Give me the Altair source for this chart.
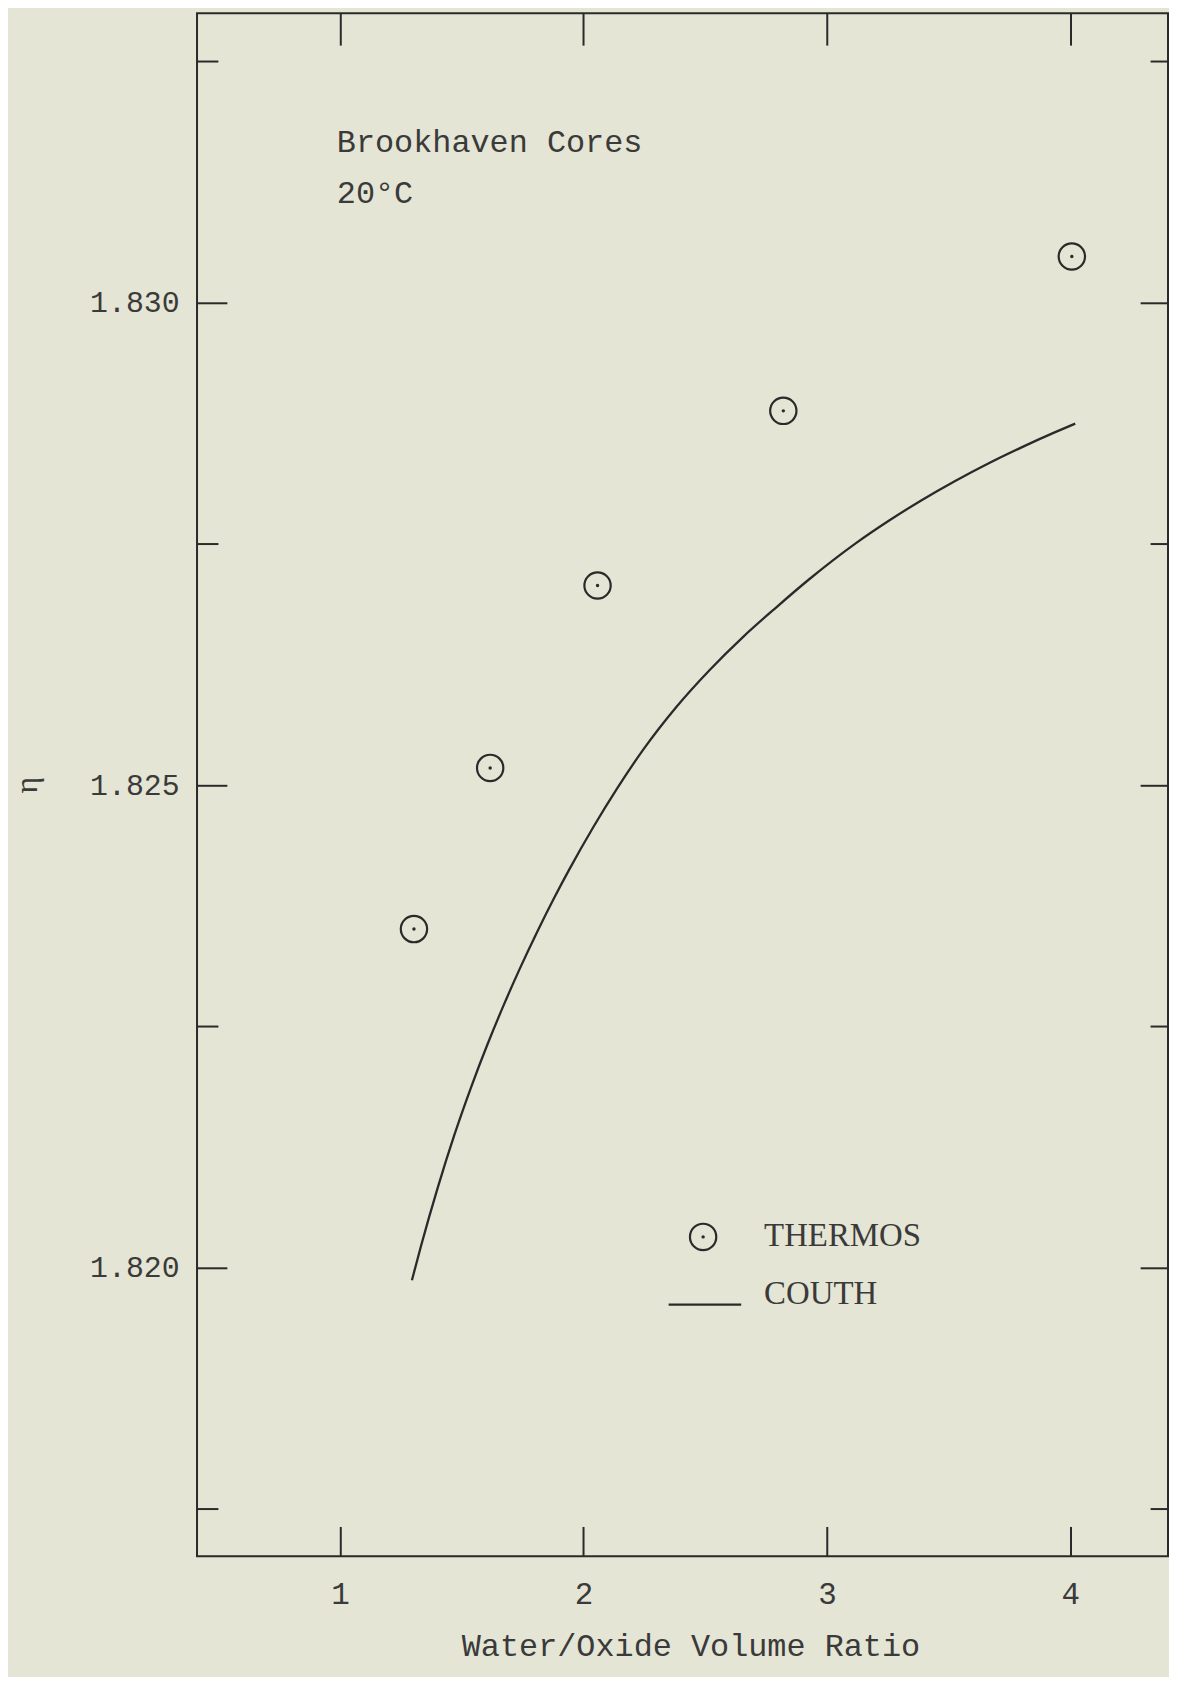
import altair as alt
import pandas as pd

# ---------------- data ----------------
thermos_x = [1.304, 1.617, 2.058, 2.821, 4.006]
thermos_y = [1.82351, 1.82518, 1.82707, 1.82888, 1.83048]

couth_x = [1.2955, 1.3335, 1.4017, 1.4700, 1.5378, 1.6061, 1.6743, 1.7421,
           1.8104, 1.8786, 1.9399, 2.0421, 2.1373, 2.2464, 2.3825, 2.5186,
           2.6551, 2.7912, 2.9273, 3.1181, 3.2542, 3.3907, 3.5268, 3.6629,
           3.7994, 3.9354, 4.0200]
couth_y = [1.819870, 1.820231, 1.820831, 1.821377, 1.821865, 1.822316, 1.822732, 1.823118,
           1.823483, 1.823827, 1.824118, 1.824573, 1.824963, 1.825372, 1.825814, 1.826195,
           1.826536, 1.826842, 1.827135, 1.827507, 1.827741, 1.827957, 1.828154, 1.828335,
           1.828502, 1.828657, 1.828748]

x_ticks = [1, 2, 3, 4]
y_major = [1.820, 1.825, 1.830]
y_minor = [1.8175, 1.8225, 1.8275, 1.8325]

X_DOMAIN = [0.413, 4.401]
Y_DOMAIN = [1.81701, 1.833]

notes = ["Brookhaven Cores", "20°C"]
note_x = [0.987, 0.987]
note_y = [1.83156, 1.83103]

legend_labels = ["THERMOS", "COUTH"]
legend_text_x = [2.742, 2.742]
legend_text_y = [1.820227, 1.819629]
legend_sym_x = [2.4916]
legend_sym_y = [1.82032]
legend_line_x = [2.350]
legend_line_x2 = [2.648]
legend_line_y = [1.819619]

# ---------------- styling ----------------
BG = "#e4e5d4"
INK = "#2a2a2a"
TXT = "#3a3a3a"
FONT = "Liberation Mono"

thermos_df = pd.DataFrame({"x": thermos_x, "y": thermos_y})
couth_df = pd.DataFrame({"x": couth_x, "y": couth_y})
notes_df = pd.DataFrame({"x": note_x, "y": note_y, "t": notes})
leg_text_df = pd.DataFrame({"x": legend_text_x, "y": legend_text_y, "t": legend_labels})
leg_sym_df = pd.DataFrame({"x": legend_sym_x, "y": legend_sym_y})
leg_line_df = pd.DataFrame({"x": legend_line_x, "x2": legend_line_x2, "y": legend_line_y})

xs = alt.Scale(domain=X_DOMAIN, nice=False, zero=False)
ys = alt.Scale(domain=Y_DOMAIN, nice=False, zero=False)


def tick_axis(orient, size, values, **kw):
    return alt.Axis(orient=orient, offset=-size, tickSize=size, values=values,
                    domain=False, grid=False, ticks=True, tickColor=INK,
                    tickWidth=2, **kw)


# layer 1: COUTH curve, bottom x axis with labels, left y axis with labels
line = alt.Chart(couth_df).mark_line(color=INK, strokeWidth=2.3, interpolate="monotone").encode(
    x=alt.X("x:Q", scale=xs,
            axis=tick_axis("bottom", 30, x_ticks, labels=True, format="d",
                           labelPadding=23, labelFontSize=31, labelFont=FONT,
                           labelColor=TXT, title="Water/Oxide Volume Ratio",
                           titleFont=FONT, titleFontSize=32, titleFontWeight="normal",
                           titleColor=TXT, titleX=496, titleY=130,
                           titleBaseline="alphabetic")),
    y=alt.Y("y:Q", scale=ys,
            axis=tick_axis("left", 30, y_major, labels=True, format=".3f",
                           labelPadding=18, labelFontSize=30, labelFont=FONT,
                           labelColor=TXT, title="η", titleFont="Liberation Serif",
                           titleFontSize=32, titleFontWeight="normal",
                           titleColor=TXT, titlePadding=46)),
)

# layer 2: THERMOS circles, top x ticks, right y major ticks
circles = alt.Chart(thermos_df).mark_point(shape="circle", size=700, filled=False,
                                           color=INK, strokeWidth=2.2, opacity=1).encode(
    x=alt.X("x:Q", scale=xs, axis=tick_axis("top", 32, x_ticks, labels=False, title=None)),
    y=alt.Y("y:Q", scale=ys, axis=tick_axis("right", 28, y_major, labels=False, title=None)),
)

# layer 3: centre dots, left minor ticks
dots = alt.Chart(thermos_df).mark_point(shape="circle", size=12, filled=True,
                                        color=INK, opacity=1).encode(
    x=alt.X("x:Q", scale=xs, axis=None),
    y=alt.Y("y:Q", scale=ys, axis=tick_axis("left", 21, y_minor, labels=False, title=None)),
)

# layer 4: annotation, right minor ticks
note = alt.Chart(notes_df).mark_text(align="left", baseline="alphabetic", font=FONT,
                                     fontSize=32, color=TXT).encode(
    x=alt.X("x:Q", scale=xs, axis=None),
    y=alt.Y("y:Q", scale=ys, axis=tick_axis("right", 18, y_minor, labels=False, title=None)),
    text="t:N",
)

# legend (drawn inside the plot)
leg_circle = alt.Chart(leg_sym_df).mark_point(shape="circle", size=700, filled=False,
                                              color=INK, strokeWidth=2.2, opacity=1).encode(
    x=alt.X("x:Q", scale=xs, axis=None), y=alt.Y("y:Q", scale=ys, axis=None))
leg_dot = alt.Chart(leg_sym_df).mark_point(shape="circle", size=12, filled=True,
                                           color=INK, opacity=1).encode(
    x=alt.X("x:Q", scale=xs, axis=None), y=alt.Y("y:Q", scale=ys, axis=None))
leg_line = alt.Chart(leg_line_df).mark_rule(color=INK, strokeWidth=2.3).encode(
    x=alt.X("x:Q", scale=xs, axis=None), x2="x2:Q", y=alt.Y("y:Q", scale=ys, axis=None))
leg_text = alt.Chart(leg_text_df).mark_text(align="left", baseline="alphabetic",
                                            font="Liberation Serif", fontSize=33,
                                            color=TXT).encode(
    x=alt.X("x:Q", scale=xs, axis=None), y=alt.Y("y:Q", scale=ys, axis=None), text="t:N")

chart = alt.layer(line, circles, dots, note, leg_circle, leg_dot, leg_line, leg_text).resolve_axis(
    x="independent", y="independent"
).properties(
    width=976, height=1551,
    padding={"left": 190, "top": 1, "right": 1, "bottom": 117},
    autosize=alt.AutoSizeParams(type="none"),
    background=BG,
).configure_view(stroke=INK, strokeWidth=2)

chart.save("out.html", embed_options={"renderer": "svg", "actions": False})
